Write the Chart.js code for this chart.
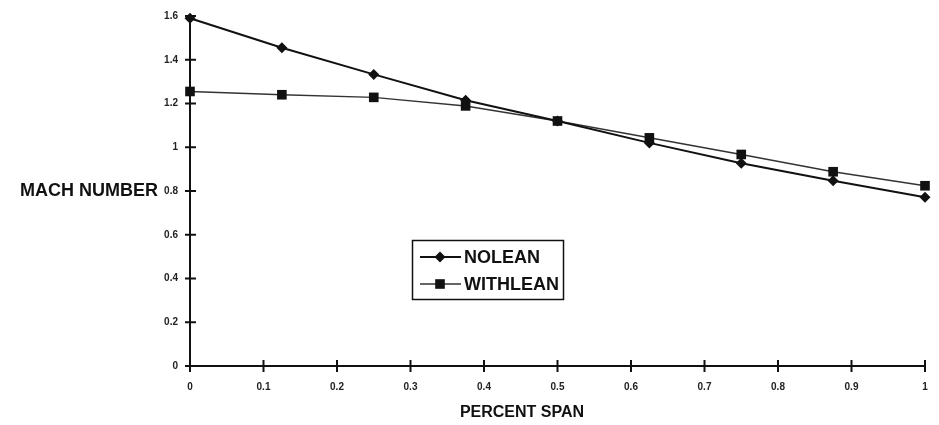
<!DOCTYPE html>
<html>
<head>
<meta charset="utf-8">
<script src="https://cdn.jsdelivr.net/npm/chart.js@4"></script>
<style>
  html, body { margin: 0; padding: 0; background: #fff; }
  #wrap { width: 939px; height: 425px; position: relative; }
</style>
</head>
<body>
<div id="wrap"><canvas id="machChart"></canvas></div>
<script>
// values
const spanPos = [0, 0.125, 0.25, 0.375, 0.5, 0.625, 0.75, 0.875, 1];
const noLean = [1.59, 1.455, 1.333, 1.215, 1.12, 1.02, 0.927, 0.847, 0.771];
const withLean = [1.255, 1.24, 1.228, 1.189, 1.12, 1.043, 0.967, 0.888, 0.824];
const seriesNames = ['NOLEAN', 'WITHLEAN'];

const FONT = '"Liberation Sans", Arial, sans-serif';

// axis ticks that cross the axis line, plus the boxed legend and horizontal titles
const decorations = {
    id: 'decorations',
    afterDraw(chart) {
        const c = chart.ctx;
        const xs = chart.scales.x, ys = chart.scales.y;
        const area = chart.chartArea;
        c.save();
        c.strokeStyle = '#111';
        c.lineWidth = 2;
        ys.ticks.forEach(t => {
            const py = ys.getPixelForValue(t.value);
            c.beginPath(); c.moveTo(area.left - 5, py); c.lineTo(area.left + 6, py); c.stroke();
        });
        xs.ticks.forEach(t => {
            const px = xs.getPixelForValue(t.value);
            c.beginPath(); c.moveTo(px, area.bottom - 6); c.lineTo(px, area.bottom + 6); c.stroke();
        });

        // axis titles
        c.fillStyle = '#111';
        c.font = 'bold 18px ' + FONT;
        c.textAlign = 'right';
        c.textBaseline = 'middle';
        c.fillText('MACH NUMBER', 158, ys.getPixelForValue(0.8));
        c.font = 'bold 16px ' + FONT;
        c.textAlign = 'center';
        c.fillText('PERCENT SPAN', 522, 413);

        // legend box
        c.lineWidth = 1.5;
        c.strokeRect(412.5, 240.5, 151, 59);
        chart.data.datasets.forEach((ds, i) => {
            const ly = 257 + i * 27;
            c.strokeStyle = ds.borderColor;
            c.lineWidth = ds.borderWidth;
            c.beginPath(); c.moveTo(420, ly); c.lineTo(461, ly); c.stroke();
            c.fillStyle = ds.pointBackgroundColor;
            Chart.helpers.drawPoint(c, { pointStyle: ds.pointStyle, radius: ds.pointRadius, borderWidth: 0 }, 440, ly);
            c.fillStyle = '#111';
            c.font = 'bold 18px ' + FONT;
            c.textAlign = 'left';
            c.fillText(ds.label, 464, ly + 1);
        });
        c.restore();
    }
};

const ctx = document.getElementById('machChart').getContext('2d');
const machChart = new Chart(ctx, {
    type: 'line',
    data: {
        datasets: [{
            label: seriesNames[0],
            data: spanPos.map((x, i) => ({ x: x, y: noLean[i] })),
            borderColor: '#111',
            borderWidth: 2,
            pointStyle: 'rectRot',
            pointRadius: 5.5,
            pointBackgroundColor: '#111',
            pointBorderColor: '#111',
            pointBorderWidth: 0,
            tension: 0,
            clip: false
        }, {
            label: seriesNames[1],
            data: spanPos.map((x, i) => ({ x: x, y: withLean[i] })),
            borderColor: '#333',
            borderWidth: 1.5,
            pointStyle: 'rect',
            pointRadius: 6.8,
            pointBackgroundColor: '#111',
            pointBorderColor: '#111',
            pointBorderWidth: 0,
            tension: 0,
            clip: false
        }]
    },
    options: {
        responsive: true,
        maintainAspectRatio: false,
        animation: false,
        layout: { padding: { top: 16, right: 14, left: 0, bottom: 0 } },
        scales: {
            x: {
                type: 'linear',
                min: 0, max: 1,
                grid: { display: false, drawTicks: false },
                border: { display: true, color: '#111', width: 2 },
                ticks: {
                    stepSize: 0.1,
                    padding: 15,
                    color: '#222',
                    font: { family: FONT, size: 10, weight: 'bold' },
                    maxRotation: 0,
                    callback: v => String(Math.round(v * 10) / 10)
                },
                afterFit(s) { s.height = 59; s.paddingLeft = 0; s.paddingRight = 0; }
            },
            y: {
                min: 0, max: 1.6,
                grid: { display: false, drawTicks: false },
                border: { display: true, color: '#111', width: 2 },
                ticks: {
                    stepSize: 0.2,
                    padding: 12,
                    color: '#222',
                    font: { family: FONT, size: 10, weight: 'bold' },
                    callback: v => String(Math.round(v * 10) / 10)
                },
                afterFit(s) { s.width = 190; s.paddingTop = 0; s.paddingBottom = 0; }
            }
        },
        plugins: {
            legend: { display: false },
            tooltip: { enabled: false }
        }
    },
    plugins: [decorations]
});
</script>
</body>
</html>
